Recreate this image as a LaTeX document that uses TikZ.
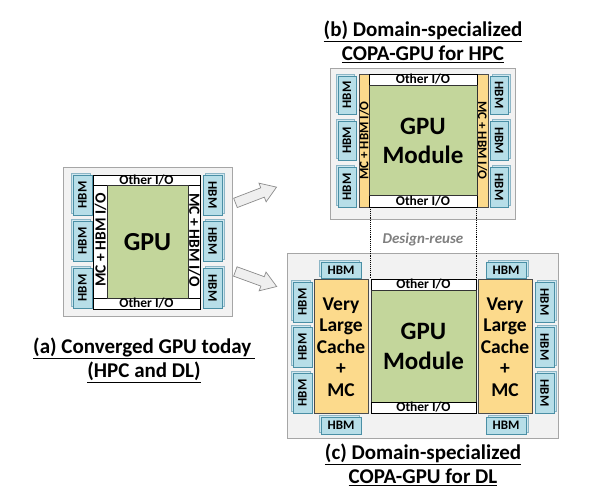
\documentclass[tikz,border=0pt]{standalone}
\usepackage{fontspec}
\setmainfont{Carlito}
\definecolor{panelfill}{HTML}{F2F2F2}
\definecolor{panelborder}{HTML}{A6A6A6}
\definecolor{hbmfill}{HTML}{B7DEE8}
\definecolor{hbmborder}{HTML}{4A8FA5}
\definecolor{hbmbackfill}{HTML}{CFE7EF}
\definecolor{hbmbackborder}{HTML}{8DB6C6}
\definecolor{gpugreen}{HTML}{C3D69B}
\definecolor{cacheyellow}{HTML}{FCDA8C}
\definecolor{arrowfill}{HTML}{EFEFEF}
\definecolor{arrowborder}{HTML}{8C8C8C}
\definecolor{reusegray}{HTML}{7F7F7F}
\newcommand\hbmstack[7]{%
  \path[hbmb] ({#2+#7},{#3-2}) rectangle ({#4+#7},{#5-2});
  \path[hbmf] (#2,#3) rectangle (#4,#5);
  \node[lbl, rotate=#6] (#1) at ({(#2+#4)/2},{(#3+#5)/2}) {HBM};
}
\begin{document}
\begin{tikzpicture}[x=1pt,y=-1pt, font=\bfseries,
  panel/.style={draw=panelborder, fill=panelfill, line width=0.8pt},
  hbmf/.style={draw=hbmborder, fill=hbmfill, line width=0.7pt},
  hbmb/.style={draw=hbmbackborder, fill=hbmbackfill, line width=0.6pt},
  io/.style={draw=black, fill=white, line width=0.7pt},
  core/.style={draw=black!80, fill=gpugreen, line width=0.7pt},
  cache/.style={draw=black!70, fill=cacheyellow, line width=0.7pt},
  lbl/.style={inner sep=0pt, font=\bfseries\fontsize{13}{13}\selectfont},
  iolbl/.style={inner sep=0pt, font=\bfseries\fontsize{13.5}{13.5}\selectfont},
  mclbl/.style={inner sep=0pt, font=\bfseries\fontsize{#1}{#1}\selectfont},
  big/.style 2 args={inner sep=0pt, align=center, font=\bfseries\fontsize{#1}{#2}\selectfont},
  title/.style={inner sep=0pt, align=center, font=\bfseries\fontsize{21}{24}\selectfont},
  blockarrow/.style={draw=arrowborder, fill=arrowfill, line width=0.7pt},
  reuse/.style={densely dotted, line width=0.9pt, black}
]
\useasboundingbox (0,0) rectangle (596,496);
\fill[white] (0,0) rectangle (596,496);

% ---------- Panel (a) ----------
\path[panel] (63,167) rectangle (232,316);
\path[io] (93,175) rectangle (200,185);
\path[io] (93,298) rectangle (200,309);
\path[io] (93,185) rectangle (107,298);
\path[io] (188,185) rectangle (200,298);
\path[core] (107,185) rectangle (188,298);
\node[iolbl] (aIOt) at (146.5,180.5) {Other I/O};
\node[iolbl] (aIOb) at (146.5,303.5) {Other I/O};
\node[mclbl=15.5, rotate=90] (aMCl) at (100.5,240) {MC + HBM I/O};
\node[mclbl=15.5, rotate=-90] (aMCr) at (194.5,240) {MC + HBM I/O};
\node[big={26}{28}] (aGPU) at (147.5,242) {GPU};
\hbmstack{aH1}{73}{175}{92}{215}{90}{-2}
\hbmstack{aH2}{73}{221}{92}{261}{90}{-2}
\hbmstack{aH3}{73}{268}{92}{308}{90}{-2}
\hbmstack{aH4}{203}{175}{222}{215}{-90}{2}
\hbmstack{aH5}{203}{221}{222}{261}{-90}{2}
\hbmstack{aH6}{203}{268}{222}{308}{-90}{2}
\node[title] (aT) at (144,360) {\underline{(a) Converged GPU today\,}\\\underline{(HPC and DL)}};

% ---------- Block arrows ----------
\begin{scope}[shift={(256,195)}, rotate=21]
  \path[blockarrow] (-22,-5) -- (7,-5) -- (7,-10) -- (22,0) -- (7,10) -- (7,5) -- (-22,5) -- cycle;
\end{scope}
\begin{scope}[shift={(256,279)}, rotate=-20]
  \path[blockarrow] (-22,-5) -- (7,-5) -- (7,-10) -- (22,0) -- (7,10) -- (7,5) -- (-22,5) -- cycle;
\end{scope}

% ---------- Panel (b) ----------
\node[title] (bT) at (423,42) {\underline{(b) Domain-specialized}\\\underline{COPA-GPU for HPC}};
\path[panel] (330,68) rectangle (515,219);
\path[cache] (359,74) rectangle (369,207);
\path[cache] (477,74) rectangle (488,207);
\path[io] (369,74) rectangle (477,85);
\path[io] (369,195) rectangle (477,207);
\path[core] (369,85) rectangle (477,195);
\node[iolbl] (bIOt) at (423,79.5) {Other I/O};
\node[iolbl] (bIOb) at (423,201) {Other I/O};
\node[mclbl=13, rotate=90] (bMCl) at (364,140.5) {MC + HBM I/O};
\node[mclbl=13, rotate=-90] (bMCr) at (482.5,140.5) {MC + HBM I/O};
\node[big={25}{29}] (bGPU) at (423,141) {GPU\\Module};
\hbmstack{bH1}{338}{76}{356}{114}{90}{-2}
\hbmstack{bH2}{338}{121}{356}{160}{90}{-2}
\hbmstack{bH3}{338}{167}{356}{207}{90}{-2}
\hbmstack{bH4}{490}{76}{508}{114}{-90}{2}
\hbmstack{bH5}{490}{121}{508}{160}{-90}{2}
\hbmstack{bH6}{490}{167}{508}{207}{-90}{2}
\coordinate (bL) at (370,207);
\coordinate (bR) at (476.5,207);

% ---------- Panel (c) ----------
\path[panel] (287,253) rectangle (558,438);
\path[cache] (314,279) rectangle (368,413);
\path[cache] (478,279) rectangle (532,413);
\path[io] (371,279) rectangle (476,290);
\path[core] (371,290) rectangle (476,402);
\path[io] (371,402) rectangle (476,413);
\node[iolbl] (cIOt) at (423.5,284.5) {Other I/O};
\node[iolbl] (cIOb) at (423.5,407.5) {Other I/O};
\node[big={25}{30}] (cGPU) at (423.5,346) {GPU\\Module};
\node[big={19.5}{21.5}] (cCl) at (341,347) {Very\\Large\\Cache\\+\\MC};
\node[big={19.5}{21.5}] (cCr) at (505,347) {Very\\Large\\Cache\\+\\MC};
\hbmstack{cT1}{321}{262}{361}{278}{0}{-2}
\hbmstack{cT2}{486}{262}{526}{278}{0}{2}
\hbmstack{cB1}{321}{417}{361}{434}{0}{-2}
\hbmstack{cB2}{486}{417}{526}{434}{0}{2}
\hbmstack{cL1}{293}{282}{312}{322}{90}{-2}
\hbmstack{cL2}{293}{327}{312}{367}{90}{-2}
\hbmstack{cL3}{293}{373}{312}{413}{90}{-2}
\hbmstack{cR1}{535}{282}{554}{322}{-90}{2}
\hbmstack{cR2}{535}{327}{554}{367}{-90}{2}
\hbmstack{cR3}{535}{373}{554}{413}{-90}{2}
\coordinate (cL) at (370,279);
\coordinate (cR) at (476.5,279);
\node[title] (cT) at (423,464.5) {\underline{(c) Domain-specialized}\\\underline{COPA-GPU for DL}};

% ---------- Design reuse ----------
\draw[reuse] (bL) -- (cL);
\draw[reuse] (bR) -- (cR);
\node[inner sep=0pt, text=reusegray, font=\bfseries\itshape\fontsize{15}{15}\selectfont] (reuse) at (423,239) {Design-reuse};
\end{tikzpicture}
\end{document}
